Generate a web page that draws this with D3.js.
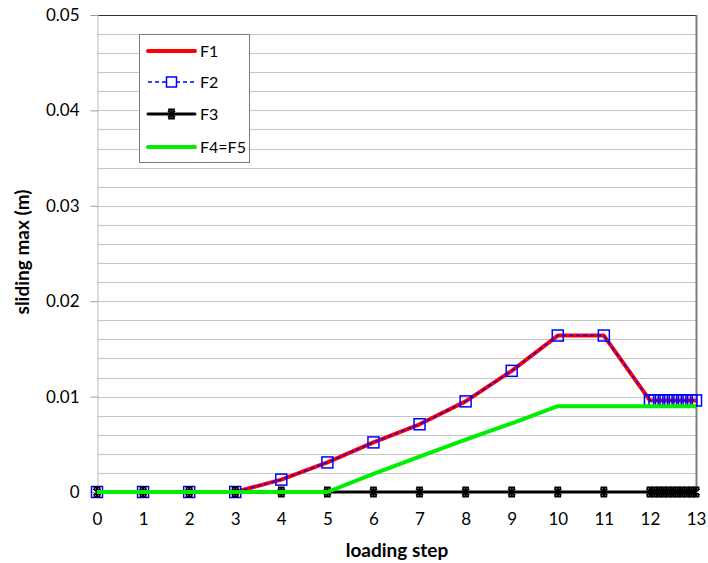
<!DOCTYPE html>
<html>
<head>
<meta charset="utf-8">
<script src="https://cdn.jsdelivr.net/npm/d3@7"></script>
<style>
  html, body { margin: 0; padding: 0; background: #fff; }
  svg { display: block; font-family: Lato, "Open Sans", sans-serif; }
</style>
</head>
<body>
<svg id="chart" width="708" height="563"></svg>
<script>
// Loading steps: integer steps 0-11, then sub-steps between 12 and 13
const steps = [0, 1, 2, 3, 4, 5, 6, 7, 8, 9, 10, 11,
  12, 12.1, 12.2, 12.3, 12.4, 12.5, 12.6, 12.7, 12.8, 12.9, 13];

// Maximum sliding (m) per interface
const f1 = [0, 0, 0, 0, 0.0013, 0.0031, 0.0052, 0.0071, 0.0095, 0.0127, 0.0164, 0.0164,
  0.0096, 0.0096, 0.0096, 0.0096, 0.0096, 0.0096, 0.0096, 0.0096, 0.0096, 0.0096, 0.0096];
const f2 = [0, 0, 0, 0, 0.0013, 0.0031, 0.0052, 0.0071, 0.0095, 0.0127, 0.0164, 0.0164,
  0.0096, 0.0096, 0.0096, 0.0096, 0.0096, 0.0096, 0.0096, 0.0096, 0.0096, 0.0096, 0.0096];
const f3 = [0, 0, 0, 0, 0, 0, 0, 0, 0, 0, 0, 0,
  0, 0, 0, 0, 0, 0, 0, 0, 0, 0, 0];
const f45 = [0, 0, 0, 0, 0, 0, 0.0019, 0.0037, 0.0055, 0.0072, 0.0090, 0.0090,
  0.0090, 0.0090, 0.0090, 0.0090, 0.0090, 0.0090, 0.0090, 0.0090, 0.0090, 0.0090, 0.0090];

const xTicks = [0, 1, 2, 3, 4, 5, 6, 7, 8, 9, 10, 11, 12, 13];
const yTicks = [0, 0.01, 0.02, 0.03, 0.04, 0.05];
const yGrid = [0.002, 0.004, 0.006, 0.008, 0.01, 0.012, 0.014, 0.016, 0.018, 0.02,
  0.022, 0.024, 0.026, 0.028, 0.03, 0.032, 0.034, 0.036, 0.038, 0.04,
  0.042, 0.044, 0.046, 0.048];
const legendNames = ["F1", "F2", "F3", "F4=F5"];

const svg = d3.select("#chart");
const L = 97, R = 696, T = 15, B = 492;

const x = d3.scaleLinear().domain([0, 13]).range([L, R]);
const y = d3.scaleLinear().domain([0, 0.05]).range([B, T]);

// Horizontal grid
svg.append("g").selectAll("line").data(yGrid).join("line")
  .attr("x1", L).attr("x2", R)
  .attr("y1", d => Math.round(y(d)) + 0.5).attr("y2", d => Math.round(y(d)) + 0.5)
  .attr("stroke", "#c6c6c6").attr("stroke-width", 1);

// Plot border: top and right
svg.append("line").attr("x1", L).attr("x2", R + 1).attr("y1", T + 0.5).attr("y2", T + 0.5)
  .attr("stroke", "#333").attr("stroke-width", 1);
svg.append("line").attr("x1", R + 0.5).attr("x2", R + 0.5).attr("y1", T).attr("y2", B)
  .attr("stroke", "#7f7f7f").attr("stroke-width", 2);

// Y axis
const yAxis = d3.axisLeft(y).tickValues(yTicks)
  .tickFormat(d => d === 0 ? "0" : d3.format(".2f")(d))
  .tickSize(7).tickPadding(11);
const gy = svg.append("g").attr("transform", `translate(${L + 0.5},0)`).call(yAxis);
gy.select(".domain").attr("stroke", "#bdbdbd");
gy.selectAll(".tick line").attr("stroke", "#9a9a9a");
gy.selectAll(".tick text").attr("font-size", 17).attr("fill", "#000")
  .attr("font-family", "Lato, sans-serif");

// X axis (labels only)
const xAxis = d3.axisBottom(x).tickValues(xTicks).tickFormat(d3.format("d"))
  .tickSize(0).tickPadding(21);
const gx = svg.append("g").attr("transform", `translate(0,${B})`).call(xAxis);
gx.select(".domain").attr("stroke", "#bdbdbd");
gx.selectAll(".tick text").attr("font-size", 17).attr("fill", "#000")
  .attr("font-family", "Lato, sans-serif");

// Axis titles
svg.append("text").attr("x", 397).attr("y", 557).attr("text-anchor", "middle")
  .attr("font-size", 19).attr("font-weight", "bold").text("loading step");
svg.append("text").attr("transform", "translate(29,252) rotate(-90)")
  .attr("text-anchor", "middle").attr("font-size", 19).attr("font-weight", "bold")
  .text("sliding max (m)");

const pts = vals => steps.map((s, i) => [s, vals[i]]);
const line = d3.line().x(d => x(d[0])).y(d => y(d[1]));

function starPath(r) {
  const a = r * 0.75;
  return `M${-a},${-a}L${a},${a}M${-a},${a}L${a},${-a}M0,${-r}L0,${r}M${-a},${-r}L${a},${-r}M${-a},${r}L${a},${r}`;
}

// F1
svg.append("path").datum(pts(f1)).attr("d", line)
  .attr("fill", "none").attr("stroke", "#ff0000").attr("stroke-width", 4)
  .attr("stroke-linejoin", "round");

// F2
svg.append("path").datum(pts(f2)).attr("d", line)
  .attr("fill", "none").attr("stroke", "#0000ff").attr("stroke-width", 1.5)
  .attr("stroke-dasharray", "4,3");
svg.append("g").selectAll("rect").data(pts(f2)).join("rect")
  .attr("x", d => x(d[0]) - 5.5).attr("y", d => y(d[1]) - 5.5)
  .attr("width", 11).attr("height", 11)
  .attr("fill", "none").attr("stroke", "#0000ff").attr("stroke-width", 1.5);

// F3
svg.append("path").datum(pts(f3)).attr("d", line)
  .attr("fill", "none").attr("stroke", "#000").attr("stroke-width", 3);
svg.append("g").selectAll("path").data(pts(f3)).join("path")
  .attr("transform", d => `translate(${x(d[0])},${y(d[1])})`)
  .attr("d", starPath(4.5)).attr("fill", "none").attr("stroke", "#000").attr("stroke-width", 2);

// F4=F5
svg.append("path").datum(pts(f45)).attr("d", line)
  .attr("fill", "none").attr("stroke", "#00ee00").attr("stroke-width", 4)
  .attr("stroke-linejoin", "round");

// Legend
const lg = svg.append("g");
lg.append("rect").attr("x", 139.5).attr("y", 34.5).attr("width", 110).attr("height", 128)
  .attr("fill", "#fff").attr("stroke", "#7a7a7a").attr("stroke-width", 1);
const ly = [51, 82, 114, 147];
const lx1 = 148, lx2 = 195;
// F1 key
lg.append("line").attr("x1", lx1).attr("x2", lx2).attr("y1", ly[0]).attr("y2", ly[0])
  .attr("stroke", "#ff0000").attr("stroke-width", 4).attr("stroke-linecap", "round");
// F2 key
lg.append("line").attr("x1", lx1).attr("x2", lx2).attr("y1", ly[1]).attr("y2", ly[1])
  .attr("stroke", "#0000ff").attr("stroke-width", 1.5).attr("stroke-dasharray", "4,3");
lg.append("rect").attr("x", (lx1 + lx2) / 2 - 5).attr("y", ly[1] - 5).attr("width", 10).attr("height", 10)
  .attr("fill", "#fff").attr("stroke", "#0000ff").attr("stroke-width", 1.5);
// F3 key
lg.append("line").attr("x1", lx1).attr("x2", lx2).attr("y1", ly[2]).attr("y2", ly[2])
  .attr("stroke", "#000").attr("stroke-width", 3).attr("stroke-linecap", "round");
lg.append("path").attr("transform", `translate(${(lx1 + lx2) / 2},${ly[2]})`)
  .attr("d", starPath(4.5)).attr("fill", "none").attr("stroke", "#000").attr("stroke-width", 2);
// F4=F5 key
lg.append("line").attr("x1", lx1).attr("x2", lx2).attr("y1", ly[3]).attr("y2", ly[3])
  .attr("stroke", "#00ee00").attr("stroke-width", 4).attr("stroke-linecap", "round");
lg.selectAll("text.lab").data(legendNames).join("text").attr("class", "lab")
  .attr("x", 200).attr("y", (d, i) => ly[i] + 6)
  .attr("font-size", 16).attr("fill", "#000").text(d => d);
</script>
</body>
</html>
